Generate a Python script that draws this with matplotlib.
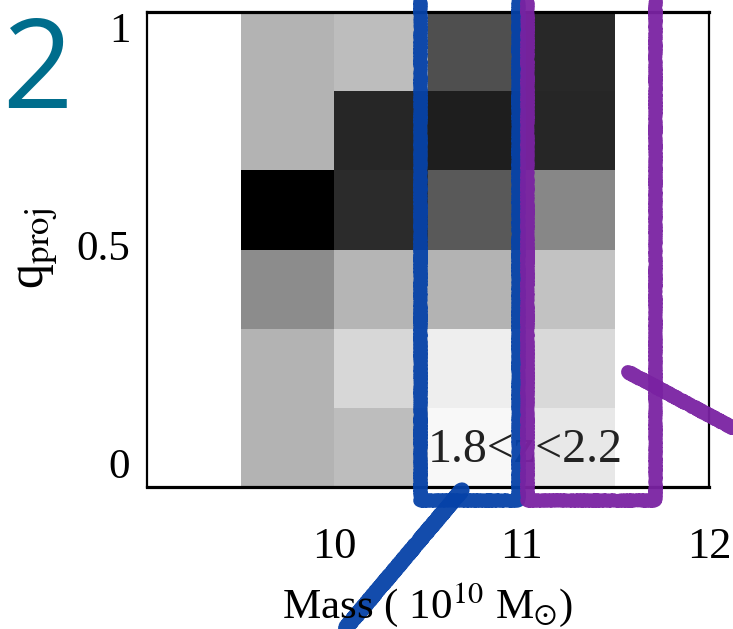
import matplotlib
matplotlib.use("Agg")
import matplotlib.pyplot as plt
from matplotlib.lines import Line2D
import numpy as np

plt.rcParams['font.family'] = ['Liberation Serif', 'DejaVu Serif']
plt.rcParams['mathtext.fontset'] = 'stix'

# bins of the 2D histogram
mass_edges = [9.0, 9.5, 10.0, 10.5, 11.0, 11.5, 12.0]
q_edges = [0, 1/6, 2/6, 3/6, 4/6, 5/6, 1.0]

# normalised density per q bin (bottom to top), one value per mass bin
q_bin1 = [0, 0.30, 0.26, 0.03, 0.09, 0]
q_bin2 = [0, 0.30, 0.16, 0.07, 0.15, 0]
q_bin3 = [0, 0.45, 0.29, 0.30, 0.24, 0]
q_bin4 = [0, 1.00, 0.83, 0.65, 0.47, 0]
q_bin5 = [0, 0.30, 0.85, 0.88, 0.85, 0]
q_bin6 = [0, 0.30, 0.26, 0.69, 0.84, 0]

xticks = [10, 11, 12]
yticks = [0, 0.5, 1]
ytick_labels = ['0', '0.5', '1']

W, H = 733, 629
fig = plt.figure(figsize=(W / 100, H / 100), dpi=100)
ax = fig.add_axes([147 / W, 1 - 487 / H, (709 - 147) / W, (487 - 12) / H])

density = np.array([q_bin1, q_bin2, q_bin3, q_bin4, q_bin5, q_bin6])
ax.pcolormesh(mass_edges, q_edges, density, cmap='gray_r', vmin=0, vmax=1)
ax.set_xlim(9, 12)
ax.set_ylim(0, 1)

ax.set_xticks(xticks)
ax.set_xticklabels([str(t) for t in xticks])
ax.set_yticks(yticks)
ax.set_yticklabels(ytick_labels)
ax.tick_params(axis='x', length=0, pad=29, labelsize=32)
ax.tick_params(axis='y', length=0, pad=12, labelsize=31)
for lab, va in zip(ax.get_yticklabels(), ['bottom', 'center', 'top']):
    lab.set_va(va)

for side in ['top', 'bottom']:
    ax.spines[side].set_linewidth(2.3)
for side in ['left', 'right']:
    ax.spines[side].set_linewidth(1.6)

ax.text(10.5, 0.053, '1.8<z<2.2', fontsize=34.5, color='#222222',
        ha='left', va='baseline')

fig.text(428 / W, 1 - 618 / H, r'Mass ( 10$^{10}$ M$_{\odot}$)',
         fontsize=31, ha='center', va='baseline')
fig.text(37 / W, 1 - 248 / H, r'q$_{\rm proj}$', fontsize=36,
         rotation=90, ha='center', va='center')

# big teal redshift label, cut by the left edge
fig.text(74 / W, 1 - 108 / H, '~2', fontsize=89, color='#006d8c',
         family='Open Sans', ha='right', va='baseline')

# hand drawn selection boxes
def stroke(xs, ys, color, lw):
    ln = Line2D([x / W for x in xs], [1 - y / H for y in ys],
                color=color, lw=lw, solid_capstyle='round',
                solid_joinstyle='round', alpha=0.95)
    ln.set_sketch_params(scale=0.8, length=4, randomness=2)
    fig.add_artist(ln)

blue = '#0642a8'
purple = '#7a22a2'
stroke([420, 420, 518, 518], [0, 500, 500, 0], blue, 9.5)
stroke([462, 345], [490, 629], blue, 11)
stroke([527, 527, 655, 655], [0, 500, 500, 0], purple, 9.5)
stroke([628, 733], [372, 428], purple, 10)

fig.savefig('out.png', dpi=100)
